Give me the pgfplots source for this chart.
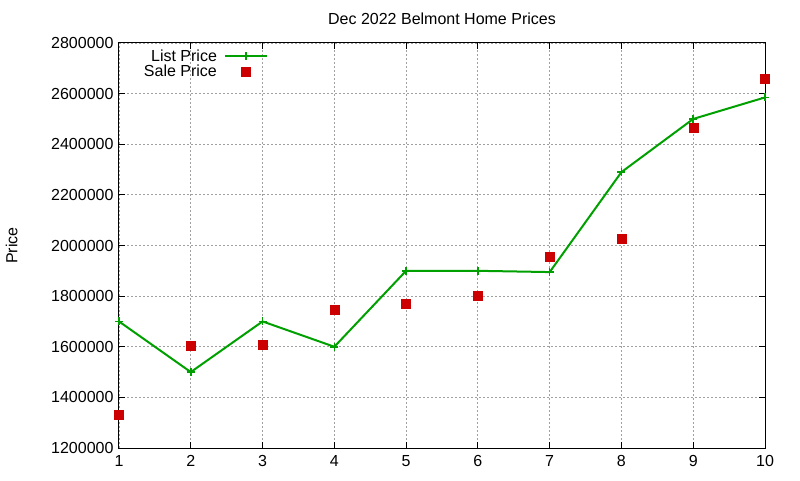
\documentclass[border=0pt]{standalone}
\usepackage{pgfplots}
\pgfplotsset{compat=1.18}
\usepackage{fontspec}
\setmainfont{Liberation Sans}
\definecolor{listgreen}{RGB}{0,160,0}
\definecolor{salered}{RGB}{204,0,0}
\definecolor{gridgray}{RGB}{160,160,160}
\pgfplotsset{
  listleg/.style={legend image code/.code={%
    \draw[overlay,##1,mark repeat=2,mark phase=2] plot coordinates {(81pt,0pt)(102pt,0pt)(123pt,0pt)};}},
  saleleg/.style={legend image code/.code={%
    \draw[overlay,##1] plot coordinates {(102pt,0pt)};}},
}
\begin{document}
\begin{tikzpicture}
\path[use as bounding box] (-119pt,-32pt) rectangle (681pt,448pt);
\begin{axis}[
  at={(0pt,0pt)}, anchor=south west,
  scale only axis, width=646pt, height=405pt,
  font=\fontsize{16}{19}\selectfont,
  xmin=1, xmax=10, ymin=1200000, ymax=2800000,
  xtick={1,2,3,4,5,6,7,8,9,10},
  ytick={1200000,1400000,1600000,1800000,2000000,2200000,2400000,2600000,2800000},
  scaled y ticks=false,
  /pgf/number format/assume math mode=true,
  yticklabel style={/pgf/number format/fixed, /pgf/number format/1000 sep={}, xshift=-2pt},
  xticklabel style={yshift=-4pt},
  grid=major,
  grid style={gridgray, line width=0.8pt, dash pattern=on 2pt off 2pt},
  tick align=inside, major tick length=6pt,
  tick style={black, line width=1pt},
  axis line style={line width=1pt},
  title={Dec 2022 Belmont Home Prices},
  title style={at={(axis description cs:0.5,1)}, anchor=center, yshift=18pt},
  ylabel={Price},
  ylabel style={at={(axis description cs:-0.166,0.5)}, anchor=center},
  legend cell align=right,
  legend style={draw=none, fill=none, at={(rel axis cs:0.0387,0.983)}, anchor=north west,
    inner sep=0pt, outer sep=0pt, row sep=2pt, column sep=0pt, nodes={inner sep=0pt},
    font=\fontsize{16}{19}\selectfont},
]
\addplot[listgreen, line width=2pt, mark=+, mark size=4pt,
  mark options={line width=1.5pt}, listleg]
  coordinates {
  (1,1700000) (2,1500000) (3,1700000) (4,1600000) (5,1900000)
  (6,1900000) (7,1895000) (8,2290000) (9,2500000) (10,2585000)
  };
\addlegendentry{List Price}
\addplot[only marks, mark=square*, mark size=4.5pt, color=salered, saleleg]
  coordinates {
  (1,1332000) (2,1605000) (3,1610000) (4,1745000) (5,1770000)
  (6,1800000) (7,1955000) (8,2025000) (9,2465000) (10,2660000)
  };
\addlegendentry{Sale Price}
\end{axis}
\end{tikzpicture}
\end{document}
